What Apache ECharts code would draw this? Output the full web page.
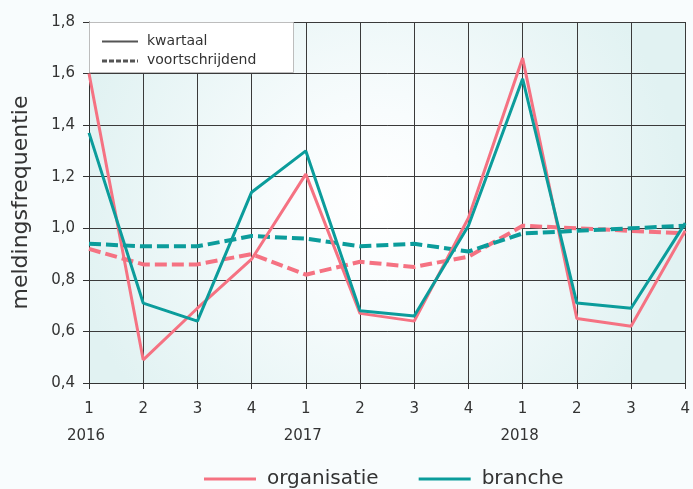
<!DOCTYPE html>
<html><head><meta charset="utf-8">
<script src="https://cdn.jsdelivr.net/npm/echarts@6/dist/echarts.min.js"></script>
<style>html,body{margin:0;padding:0;background:#f8fcfd;}#c{width:693px;height:489px;}</style>
</head><body><div id="c"></div>
<script>
const quarters = ['1','2','3','4','1','2','3','4','1','2','3','4'];
const years = ['2016','2017','2018'];
const yTicks = [0.4,0.6,0.8,1.0,1.2,1.4,1.6,1.8];
const orgKwartaal = [1.60,0.49,0.69,0.88,1.21,0.67,0.64,1.04,1.66,0.65,0.62,0.99];
const brancheKwartaal = [1.37,0.71,0.64,1.14,1.30,0.68,0.66,1.01,1.58,0.71,0.69,1.02];
const orgVoort = [0.92,0.86,0.86,0.90,0.82,0.87,0.85,0.89,1.01,1.00,0.99,0.98];
const brancheVoort = [0.94,0.93,0.93,0.97,0.96,0.93,0.94,0.91,0.98,0.99,1.00,1.01];

const PINK = '#f57282';
const TEAL = '#0b9c9b';
const FONT = 'DejaVu Sans';
const chart = echarts.init(document.getElementById('c'));
chart.setOption({
  backgroundColor: '#f8fcfd',
  animation: false,
  textStyle: {fontFamily: FONT},
  grid: {left: 89, right: 3, top: 22, bottom: 106, show: true, borderWidth: 0,
    backgroundColor: {type: 'radial', x: 0.48, y: 0.5, r: 0.85,
      colorStops: [{offset: 0, color: '#ffffff'}, {offset: 0.3, color: '#f8fcfd'}, {offset: 1, color: '#e1f2f2'}]}},
  legend: {
    left: 204, top: 469, padding: 0, icon: 'rect', itemWidth: 52, itemHeight: 3, itemGap: 40,
    data: ['organisatie', 'branche'],
    textStyle: {fontSize: 20, color: '#333', fontFamily: FONT, padding: [0,0,0,6]}
  },
  xAxis: {
    type: 'category', data: quarters, boundaryGap: false,
    axisLine: {lineStyle: {color: '#333', width: 1}},
    axisTick: {show: true, length: 6, lineStyle: {color: '#333'}},
    splitLine: {show: true, lineStyle: {color: '#3a3a3a', width: 1}},
    axisLabel: {
      margin: 13, fontSize: 15, color: '#333', lineHeight: 27, interval: 0,
      formatter: (v, i) => (i % 4 === 0 ? v + '\n{y|' + years[i / 4] + '}' : v),
      rich: {y: {fontSize: 15, color: '#333', fontFamily: FONT, lineHeight: 27, padding: [0, 6, 0, 0]}}
    }
  },
  yAxis: {
    type: 'value', min: 0.4, max: 1.8, interval: 0.2,
    name: 'meldingsfrequentie', nameLocation: 'middle', nameGap: 57,
    nameTextStyle: {fontSize: 22, color: '#333', fontFamily: FONT},
    axisLine: {show: true, lineStyle: {color: '#333'}},
    axisTick: {show: true, length: 6, lineStyle: {color: '#333'}},
    splitLine: {show: true, lineStyle: {color: '#3a3a3a', width: 1}},
    axisLabel: {fontSize: 15, color: '#333', margin: 14,
      formatter: v => yTicks.includes(Math.round(v*10)/10) ? v.toFixed(1).replace('.', ',') : ''}
  },
  series: [
    {name: 'organisatie voortschrijdend', type: 'line', data: orgVoort, showSymbol: false,
      lineStyle: {color: PINK, width: 4, type: [12, 5]}, itemStyle: {color: PINK}, z: 2},
    {name: 'branche voortschrijdend', type: 'line', data: brancheVoort, showSymbol: false,
      lineStyle: {color: TEAL, width: 4, type: [12, 5]}, itemStyle: {color: TEAL}, z: 3},
    {name: 'organisatie', type: 'line', data: orgKwartaal, showSymbol: false,
      lineStyle: {color: PINK, width: 3}, itemStyle: {color: PINK}, z: 4},
    {name: 'branche', type: 'line', data: brancheKwartaal, showSymbol: false,
      lineStyle: {color: TEAL, width: 3}, itemStyle: {color: TEAL}, z: 5}
  ],
  graphic: [
    {type: 'rect', left: 89, top: 22, z: 100, shape: {width: 204, height: 50},
      style: {fill: '#ffffff', stroke: '#bdbdbd', lineWidth: 1}},
    {type: 'line', z: 101, shape: {x1: 102, y1: 41.5, x2: 138, y2: 41.5},
      style: {stroke: '#555', lineWidth: 2}},
    {type: 'line', z: 101, shape: {x1: 102, y1: 61, x2: 138, y2: 61},
      style: {stroke: '#555', lineWidth: 3, lineDash: [5, 2]}},
    {type: 'text', z: 101,
      style: {x: 147, y: 41, verticalAlign: 'middle', text: 'kwartaal', fontSize: 14, fill: '#333', fontFamily: FONT}},
    {type: 'text', z: 101,
      style: {x: 147, y: 60, verticalAlign: 'middle', text: 'voortschrijdend', fontSize: 14, fill: '#333', fontFamily: FONT}}
  ]
});
</script></body></html>
